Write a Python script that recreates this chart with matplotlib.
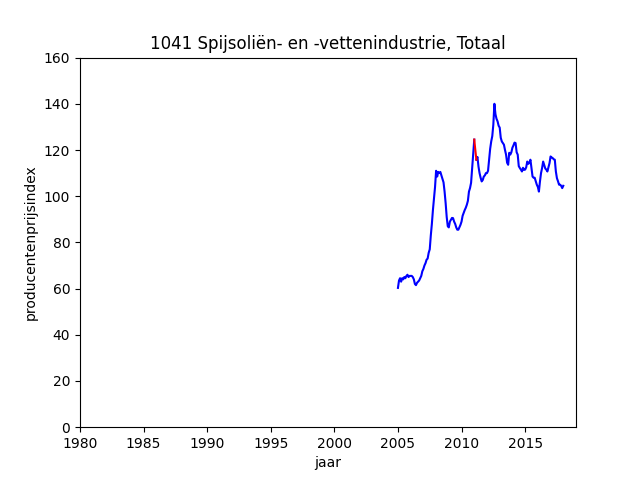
import numpy as np
import matplotlib
matplotlib.use("Agg")
import matplotlib.pyplot as plt

# Monthly index values, Jan 2005 .. Jan 2018 (NaN = gap in main series)
v2005 = [60.3, 63.5, 64.5, 63.0, 64.5, 64.0, 65.0, 64.5, 65.5, 66.0, 65.0, 65.5]
v2006 = [65.5, 65.5, 65.0, 64.0, 62.0, 61.5, 62.5, 63.0, 63.5, 64.5, 65.5, 67.5]
v2007 = [68.5, 70.0, 71.0, 72.5, 73.0, 75.5, 77.0, 83.0, 88.0, 94.0, 99.0, 104.0]
v2008 = [111.0, 108.5, 110.5, 110.0, 110.5, 109.0, 107.5, 106.0, 102.0, 97.0, 91.0, 87.0]
v2009 = [86.5, 89.0, 89.8, 90.6, 90.5, 89.0, 88.0, 86.5, 85.5, 85.5, 86.5, 87.6]
v2010 = [89.0, 91.5, 92.8, 94.0, 95.0, 96.3, 98.0, 102.0, 103.5, 105.8, 112.0, 118.0]
v2011 = [124.5, np.nan, 115.8, 117.0, 112.8, 110.0, 108.0, 106.4, 107.0, 108.5, 109.0, 110.0]
v2012 = [110.0, 111.0, 116.0, 120.5, 123.7, 126.0, 131.0, 140.0, 135.5, 133.5, 132.4, 130.5]
v2013 = [129.7, 125.3, 123.7, 123.0, 122.3, 120.0, 118.0, 114.5, 113.6, 118.8, 118.0, 119.0]
v2014 = [121.0, 122.0, 123.2, 123.0, 119.0, 118.0, 113.0, 112.2, 111.5, 110.7, 112.3, 111.4]
v2015 = [111.5, 112.5, 115.0, 114.0, 114.5, 115.8, 112.0, 108.5, 108.0, 108.0, 106.5, 105.0]
v2016 = [104.0, 102.0, 106.4, 110.0, 112.2, 115.0, 113.5, 112.0, 111.5, 110.7, 112.5, 114.3]
v2017 = [117.2, 116.8, 116.5, 116.0, 115.8, 110.7, 107.8, 106.5, 105.0, 105.0, 104.5, 103.5]
v2018 = [104.5]

main_values = (v2005 + v2006 + v2007 + v2008 + v2009 + v2010 + v2011 + v2012
               + v2013 + v2014 + v2015 + v2016 + v2017 + v2018)
start_year = 2005

# Alternative series covering the gap (Jan-Mar 2011)
alt_start = 2011.0
alt_values = [124.5, 120.0, 115.8]

main_x = start_year + np.arange(len(main_values)) / 12.0
alt_x = alt_start + np.arange(len(alt_values)) / 12.0

fig, ax = plt.subplots(figsize=(6.4, 4.8), dpi=100)
ax.plot(main_x, main_values, color='blue', linewidth=1.5)
ax.plot(alt_x, alt_values, color='red', linewidth=1.5)

ax.set_xlim(1980, 2019)
ax.set_ylim(0, 160)
ax.set_title('1041 Spijsoliën- en -vettenindustrie, Totaal')
ax.set_xlabel('jaar')
ax.set_ylabel('producentenprijsindex')

fig.savefig('out.png', dpi=100)
